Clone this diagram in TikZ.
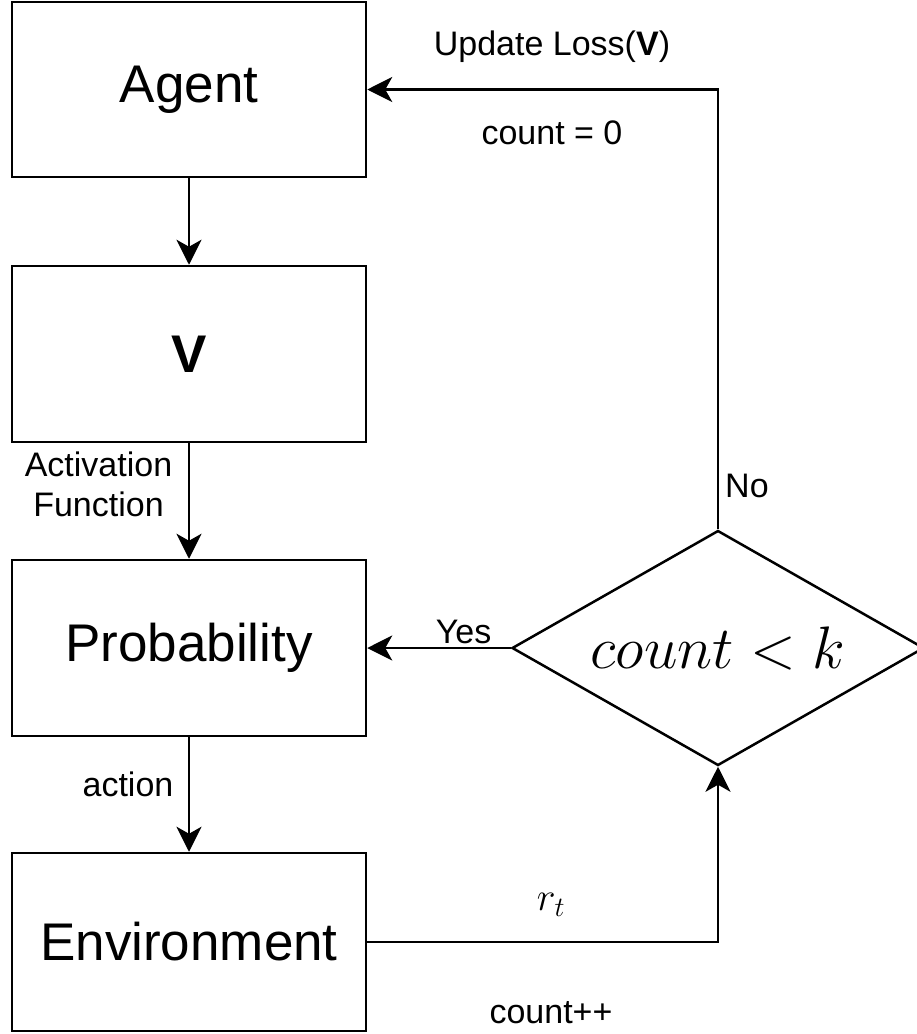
\RequirePackage{fix-cm}
\documentclass[tikz,border=0pt]{standalone}
\usepackage[no-math]{fontspec}
\setmainfont{Liberation Sans}
\usetikzlibrary{shapes.geometric,arrows.meta}
\begin{document}
\begin{tikzpicture}[x=1pt,y=-1pt,
  box/.style={draw, line width=2.5pt, minimum width=354pt, inner sep=0pt,
    font=\fontsize{53}{64}\selectfont},
  decision/.style={draw, diamond, line width=2.5pt, minimum width=412pt,
    minimum height=235pt, shape aspect=1.75, inner sep=0pt},
  flow/.style={line width=2.5pt, -{Stealth[length=25pt,width=25pt,inset=7pt]}},
  lbl/.style={inner sep=0pt, font=\fontsize{34}{40}\selectfont}]
\useasboundingbox (0,0) rectangle (917,1034);

% main column of blocks
\node[box, minimum height=175pt] (agent) at (189,89.5) {Agent};
\node[box, minimum height=176pt] (v)     at (189,354)  {\textbf{V}};
\node[box, minimum height=176pt] (prob)  at (189,648)  {Probability};
\node[box, minimum height=178pt] (env)   at (189,942)  {Environment};

% loop condition
\node[decision] (dec) at (718,648) {\fontsize{60}{72}\selectfont $count<k$};

% connectors
\draw[flow] (agent.south) -- (v.north);
\draw[flow] (v.south) -- (prob.north);
\draw[flow] (prob.south) -- (env.north);
\draw[flow] (env.east) -| (dec.south);
\draw[flow] (dec.west) -- (prob.east);
\draw[flow] (dec.north) |- (agent.east);

% connector labels
\node[lbl, align=center] (actlbl) at (98.5,484) {Activation\\Function};
\node[lbl, anchor=base] (actionlbl) at (128,796) {action};
\node[lbl, anchor=base] (yeslbl) at (463.5,643) {Yes};
\node[lbl, anchor=base west] (nolbl) at (725,497) {No};
\node[lbl, anchor=base] (updlbl) at (552,55) {Update Loss(\textbf{V})};
\node[lbl, anchor=base] (cntlbl) at (552,144) {count = 0};
\node[lbl, anchor=base] (rlbl) at (551,910) {\fontsize{40}{48}\selectfont $r_t$};
\node[lbl, anchor=base] (incrlbl) at (551,1023) {count++};
\end{tikzpicture}
\end{document}
